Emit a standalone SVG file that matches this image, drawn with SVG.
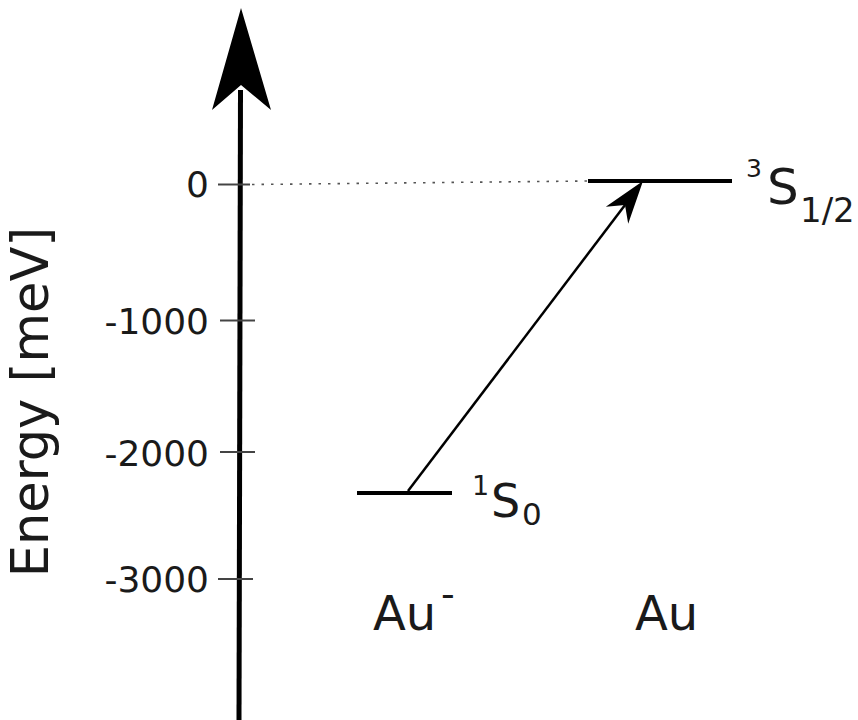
<svg xmlns="http://www.w3.org/2000/svg" width="858" height="720" viewBox="0 0 858 720">
<style>
text{font-family:"DejaVu Sans","Liberation Sans",sans-serif;fill:#1a1a1a}
.tl{font-size:36px;text-anchor:end}
.tick{stroke:#444;stroke-width:2}
.lvl{stroke:#000;stroke-width:4}
.big{font-size:48px}
</style>
<rect width="858" height="720" fill="#fff"/>
<g id="axis">
<line x1="239" y1="722" x2="240.5" y2="90" stroke="#000" stroke-width="5"/>
<polygon points="241,8 271,110 241,85 212,110" fill="#000"/>
<line class="tick" x1="218" y1="184.5" x2="250" y2="184.5"/>
<line class="tick" x1="220" y1="320.5" x2="255" y2="320.5"/>
<line class="tick" x1="220" y1="452" x2="255" y2="452"/>
<line class="tick" x1="218" y1="579" x2="253" y2="579"/>
<text class="tl" x="209" y="197">0</text>
<text class="tl" x="209" y="334">-1000</text>
<text class="tl" x="209" y="466">-2000</text>
<text class="tl" x="209" y="592">-3000</text>
<text transform="translate(48,402) rotate(-90)" text-anchor="middle" font-size="51">Energy [meV]</text>
</g>
<g id="connectors">
<line x1="252" y1="184.5" x2="588" y2="181" stroke="#555" stroke-width="1.6" stroke-dasharray="2.5 7"/>
<line x1="408" y1="491" x2="625" y2="205" stroke="#000" stroke-width="2.5"/>
<polygon points="643,181 605.8,206.8 625,205 628.2,223.8" fill="#000"/>
</g>
<g id="node-au-minus">
<line class="lvl" x1="357" y1="493" x2="452" y2="493"/>
<text x="472" y="495" font-size="27">1</text>
<text x="491" y="517" font-size="46">S</text>
<text x="522" y="525" font-size="31">0</text>
<text class="big" x="373" y="630">Au</text>
<text x="441" y="607" font-size="38">-</text>
</g>
<g id="node-au">
<line class="lvl" x1="588" y1="181" x2="732" y2="181"/>
<text x="746" y="177" font-size="25">3</text>
<text x="767" y="204" font-size="50">S</text>
<text x="800" y="222" font-size="34">1/2</text>
<text class="big" x="635" y="630">Au</text>
</g>
</svg>
